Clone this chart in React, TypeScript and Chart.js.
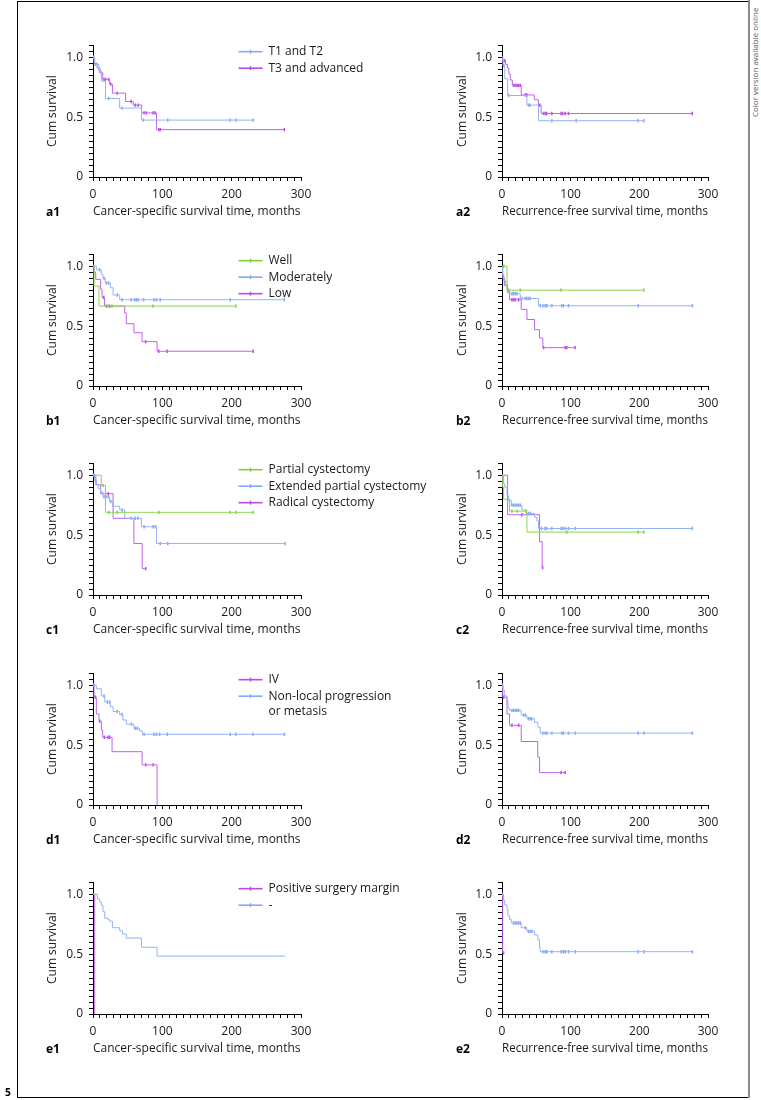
import React, { useEffect, useRef } from 'react';
import { Chart, registerables } from 'chart.js';

Chart.register(...registerables);

const FONT = "'Open Sans', sans-serif";
const TEXT = '#1a1a1a';
const BLUE = '#86a9f4';
const PURPLE = '#b94be8';
const GREEN = '#7fcf3f';
// curve strokes are a little paler than legend swatches in the reference
const CURVE_COLOR: Record<string, string> = {
  [BLUE]: '#93b3f6',
  [PURPLE]: '#c062ec',
  [GREEN]: '#8bd74f',
};

// axis tick labels
const xTickLabels = [0, 100, 200, 300];
const yTickLabels = ['0', '0.5', '1.0'];
const yTickValues = [0, 0.5, 1.0];

const csTitle = 'Cancer-specific survival time, months';
const rfTitle = 'Recurrence-free survival time, months';

// ---- a1 ----
const a1BlueT = [2.5, 8.5, 12, 18, 38.5, 70];
const a1BlueS = [0.94, 0.885, 0.8, 0.655, 0.575, 0.475];
const a1BlueC = [1, 3.5, 9.6, 22.6, 42, 72.7, 107.8, 198, 206, 231];
const a1PurpleT = [1.5, 6, 10, 14, 24, 28, 47, 58, 70, 91.5];
const a1PurpleS = [0.95, 0.91, 0.87, 0.815, 0.775, 0.7, 0.63, 0.6, 0.535, 0.395];
const a1PurpleC = [15.9, 17.8, 22.6, 25.5, 35, 55, 61, 65, 73.7, 77, 86.7, 89.5, 95, 97, 276];
// ---- a2 ----
const a2BlueT = [1.5, 4, 8.2, 36.3, 53.2];
const a2BlueS = [0.93, 0.82, 0.68, 0.6, 0.47];
const a2BlueC = [2.4, 9.7, 38.7, 41, 72.6, 108, 198, 206.6];
const a2PurpleT = [1, 5, 8, 10, 12, 15, 28, 47, 53, 57];
const a2PurpleS = [0.97, 0.94, 0.91, 0.86, 0.81, 0.765, 0.685, 0.645, 0.6, 0.53];
const a2PurpleC = [4, 17, 19.4, 21.8, 24, 26.6, 34, 36, 54.7, 60.5, 63, 65, 72.6, 86, 88.6, 92, 96.8, 277];
// ---- b1 ----
const b1GreenT = [1.5, 8.7];
const b1GreenS = [0.835, 0.667];
const b1GreenC = [21.7, 27.4, 86.7, 206];
const b1BlueT = [4.8, 12, 14.4, 17.8, 25, 29, 38.5];
const b1BlueS = [0.97, 0.93, 0.9, 0.86, 0.82, 0.76, 0.72];
const b1BlueC = [1.4, 9.6, 15.9, 19.3, 22.6, 35, 42, 55, 60, 62.6, 65, 73, 88, 91.5, 97, 198, 276];
const b1PurpleT = [1.4, 3.9, 11, 13, 16.5, 45.7, 48, 59, 70.8, 92.4];
const b1PurpleS = [0.95, 0.89, 0.81, 0.74, 0.667, 0.61, 0.52, 0.445, 0.37, 0.29];
const b1PurpleC = [15.4, 19.3, 24, 76, 94.8, 107, 231];
// ---- b2 ----
const b2GreenT = [7.3];
const b2GreenS = [0.8];
const b2GreenC = [2.4, 9.7, 26.6, 86, 206.6];
const b2BlueT = [1, 2.4, 5, 7.3, 11, 26.6, 53.2];
const b2BlueS = [0.93, 0.88, 0.85, 0.8, 0.77, 0.73, 0.67];
const b2BlueC = [14.5, 16.9, 19.4, 21.8, 29, 33.9, 36.3, 38.7, 41.1, 55.6, 59.5, 62.9, 65.3, 72.6, 87, 89.5, 96.8, 198.4, 277.2];
const b2PurpleT = [1, 3.4, 8.2, 11, 28, 36.3, 47.4, 54.7, 59.5];
const b2PurpleS = [0.9, 0.84, 0.78, 0.72, 0.64, 0.555, 0.47, 0.4, 0.32];
const b2PurpleC = [2.2, 14.5, 16.9, 19.4, 24.2, 60.5, 92, 94.3, 106.4];
// ---- c1 ----
const c1GreenT = [12, 18];
const c1GreenS = [0.915, 0.69];
const c1GreenC = [14.5, 22.6, 35, 95, 198, 206, 231];
const c1BlueT = [2.4, 5, 7.2, 11, 14.4, 24, 28, 38.5, 45.7, 69.8, 91.5];
const c1BlueS = [0.96, 0.92, 0.89, 0.86, 0.82, 0.78, 0.74, 0.71, 0.64, 0.57, 0.43];
const c1BlueC = [1.4, 3.4, 16, 18.3, 21.7, 25.5, 42, 55, 61, 65, 73.7, 86.7, 90, 97, 107.8, 277];
const c1PurpleT = [4, 11, 29, 59, 71];
const c1PurpleS = [0.92, 0.845, 0.64, 0.43, 0.22];
const c1PurpleC = [22, 76];
// ---- c2 ----
const c2PurpleT = [8.2, 54.7, 58.5];
const c2PurpleS = [0.67, 0.445, 0.23];
const c2PurpleC = [29, 59.2];
const c2GreenT = [1, 2.4, 11, 36.3];
const c2GreenS = [0.9, 0.8, 0.7, 0.525];
const c2GreenC = [14.5, 21.8, 35.3, 94.3, 198.4, 206.6];
const c2BlueT = [2.4, 3.9, 7.3, 9.7, 13.5, 29, 35.3, 47.4, 50.8, 53.2];
const c2BlueS = [0.93, 0.9, 0.83, 0.79, 0.75, 0.71, 0.68, 0.65, 0.62, 0.555];
const c2BlueC = [14.5, 16.9, 19.4, 21.8, 24.2, 26.6, 38.7, 41.1, 57.6, 62.4, 65, 72.6, 86.2, 88.6, 92, 96.8, 106.5, 277.2];
// ---- d1 ----
const d1PurpleT = [1.4, 4.8, 8.7, 12, 14, 27.5, 70.8, 92.4];
const d1PurpleS = [0.9, 0.76, 0.7, 0.625, 0.565, 0.445, 0.335, 0];
const d1PurpleC = [3.4, 9.6, 16.5, 21.7, 24, 76, 86.7];
const d1BlueT = [4.8, 12, 17, 25, 29, 38.5, 43, 48, 59, 67, 71];
const d1BlueS = [0.97, 0.91, 0.86, 0.82, 0.78, 0.755, 0.71, 0.675, 0.64, 0.62, 0.59];
const d1BlueC = [1.4, 15.9, 20.7, 24, 35, 41.9, 55.4, 61, 64, 73.7, 88, 91.5, 96, 107, 198, 206, 231, 276];
// ---- d2 ----
const d2PurpleT = [1, 7.3, 11, 28, 52, 54.7];
const d2PurpleS = [0.9, 0.76, 0.665, 0.53, 0.4, 0.27];
const d2PurpleC = [2.4, 14.5, 24.2, 86, 92];
const d2BlueT = [1.5, 3.4, 7.3, 8.7, 11, 28, 36.3, 47.4, 52.2, 55.6];
const d2BlueS = [0.96, 0.91, 0.87, 0.81, 0.79, 0.75, 0.72, 0.69, 0.65, 0.6];
const d2BlueC = [0.8, 14.5, 16.9, 19.4, 21.8, 24.2, 31.4, 33.9, 38.7, 41.1, 43.5, 59.5, 62.9, 65.3, 72.6, 87, 89.5, 96.8, 106.5, 198.4, 206.6, 277.2];
// ---- e1 ----
const e1PurpleT = [2.5];
const e1PurpleS = [0];
const e1PurpleC: number[] = [];
const e1BlueT = [6.3, 9.6, 12, 14.4, 16.9, 21.7, 24, 28, 38.5, 42.4, 48, 69.8, 92.4];
const e1BlueS = [0.96, 0.934, 0.907, 0.854, 0.8, 0.788, 0.775, 0.72, 0.695, 0.668, 0.634, 0.557, 0.483];
const e1BlueC: number[] = [];
const e1BlueEnd = 277;
// ---- e2 ----
const e2PurpleT = [1];
const e2PurpleS = [0.51];
const e2PurpleC = [2.4];
const e2BlueT = [2.4, 3.9, 7.3, 8.7, 11, 13.5, 28, 36.3, 47.4, 52.2, 54.7, 55.6];
const e2BlueS = [0.95, 0.91, 0.87, 0.82, 0.79, 0.76, 0.72, 0.69, 0.66, 0.62, 0.555, 0.52];
const e2BlueC = [0.8, 16.9, 19.4, 21.8, 24.2, 26.6, 33.9, 38.7, 41.1, 43.5, 59.5, 62.9, 65.3, 72.6, 86.2, 89.5, 92, 96.8, 106.5, 198.4, 206.6, 277.2];

type Curve = { color: string; times: number[]; surv: number[]; cens: number[]; end?: number };
type LegendItem = { text: string[]; color: string };
type Panel = { label: string; col: number; row: number; xTitle: string; curves: Curve[]; legend?: LegendItem[] };

const panels: Panel[] = [
  { label: 'a1', col: 0, row: 0, xTitle: csTitle,
    curves: [
      { color: BLUE, times: a1BlueT, surv: a1BlueS, cens: a1BlueC },
      { color: PURPLE, times: a1PurpleT, surv: a1PurpleS, cens: a1PurpleC },
    ],
    legend: [{ text: ['T1 and T2'], color: BLUE }, { text: ['T3 and advanced'], color: PURPLE }] },
  { label: 'a2', col: 1, row: 0, xTitle: rfTitle,
    curves: [
      { color: BLUE, times: a2BlueT, surv: a2BlueS, cens: a2BlueC },
      { color: PURPLE, times: a2PurpleT, surv: a2PurpleS, cens: a2PurpleC },
    ] },
  { label: 'b1', col: 0, row: 1, xTitle: csTitle,
    curves: [
      { color: GREEN, times: b1GreenT, surv: b1GreenS, cens: b1GreenC },
      { color: BLUE, times: b1BlueT, surv: b1BlueS, cens: b1BlueC },
      { color: PURPLE, times: b1PurpleT, surv: b1PurpleS, cens: b1PurpleC },
    ],
    legend: [{ text: ['Well'], color: GREEN }, { text: ['Moderately'], color: BLUE }, { text: ['Low'], color: PURPLE }] },
  { label: 'b2', col: 1, row: 1, xTitle: rfTitle,
    curves: [
      { color: GREEN, times: b2GreenT, surv: b2GreenS, cens: b2GreenC },
      { color: BLUE, times: b2BlueT, surv: b2BlueS, cens: b2BlueC },
      { color: PURPLE, times: b2PurpleT, surv: b2PurpleS, cens: b2PurpleC },
    ] },
  { label: 'c1', col: 0, row: 2, xTitle: csTitle,
    curves: [
      { color: GREEN, times: c1GreenT, surv: c1GreenS, cens: c1GreenC },
      { color: BLUE, times: c1BlueT, surv: c1BlueS, cens: c1BlueC },
      { color: PURPLE, times: c1PurpleT, surv: c1PurpleS, cens: c1PurpleC },
    ],
    legend: [{ text: ['Partial cystectomy'], color: GREEN }, { text: ['Extended partial cystectomy'], color: BLUE }, { text: ['Radical cystectomy'], color: PURPLE }] },
  { label: 'c2', col: 1, row: 2, xTitle: rfTitle,
    curves: [
      { color: GREEN, times: c2GreenT, surv: c2GreenS, cens: c2GreenC },
      { color: BLUE, times: c2BlueT, surv: c2BlueS, cens: c2BlueC },
      { color: PURPLE, times: c2PurpleT, surv: c2PurpleS, cens: c2PurpleC },
    ] },
  { label: 'd1', col: 0, row: 3, xTitle: csTitle,
    curves: [
      { color: BLUE, times: d1BlueT, surv: d1BlueS, cens: d1BlueC },
      { color: PURPLE, times: d1PurpleT, surv: d1PurpleS, cens: d1PurpleC },
    ],
    legend: [{ text: ['IV'], color: PURPLE }, { text: ['Non-local progression', 'or metasis'], color: BLUE }] },
  { label: 'd2', col: 1, row: 3, xTitle: rfTitle,
    curves: [
      { color: BLUE, times: d2BlueT, surv: d2BlueS, cens: d2BlueC },
      { color: PURPLE, times: d2PurpleT, surv: d2PurpleS, cens: d2PurpleC },
    ] },
  { label: 'e1', col: 0, row: 4, xTitle: csTitle,
    curves: [
      { color: BLUE, times: e1BlueT, surv: e1BlueS, cens: e1BlueC, end: e1BlueEnd },
      { color: PURPLE, times: e1PurpleT, surv: e1PurpleS, cens: e1PurpleC },
    ],
    legend: [{ text: ['Positive surgery margin'], color: PURPLE }, { text: ['-'], color: BLUE }] },
  { label: 'e2', col: 1, row: 4, xTitle: rfTitle,
    curves: [
      { color: BLUE, times: e2BlueT, surv: e2BlueS, cens: e2BlueC },
      { color: PURPLE, times: e2PurpleT, surv: e2PurpleS, cens: e2PurpleC },
    ] },
];

// layout
const COLS = [
  { left: 20, width: 420, yw: 73, right: 139, labelX: 46 },
  { left: 430, width: 310, yw: 72, right: 32, labelX: 456 },
];
const ROW_ZERO = [177, 386, 595, 805, 1014];
const ABOVE = 145;
const BELOW = 45;

function kmPoints(c: Curve) {
  const pts = [{ x: 0, y: 1 }];
  c.times.forEach((t, i) => pts.push({ x: t, y: c.surv[i] }));
  const last = pts[pts.length - 1];
  const end = c.end ?? (c.cens.length ? Math.max(...c.cens) : last.x);
  if (end > last.x) pts.push({ x: end, y: last.y });
  return pts;
}

function censorPoints(c: Curve) {
  return c.cens.map((t) => {
    let s = 1;
    c.times.forEach((et, i) => {
      if (et <= t) s = c.surv[i];
    });
    return { x: t, y: s };
  });
}

function makeLegendPlugin(items: LegendItem[] | undefined) {
  return {
    id: 'kmLegend',
    afterDraw(chart: any) {
      if (!items) return;
      const { ctx, chartArea, scales } = chart;
      const x0 = chartArea.left + 145.5;
      let y = scales.y.getPixelForValue(1) - 5.5;
      ctx.save();
      ctx.font = `12px ${FONT}`;
      ctx.textBaseline = 'middle';
      ctx.textAlign = 'left';
      items.forEach((it) => {
        ctx.strokeStyle = it.color;
        ctx.lineWidth = 1.6;
        ctx.beginPath();
        ctx.moveTo(x0, y);
        ctx.lineTo(x0 + 24, y);
        ctx.stroke();
        ctx.lineWidth = 1.4;
        ctx.beginPath();
        ctx.moveTo(x0 + 12, y - 2);
        ctx.lineTo(x0 + 12, y + 2);
        ctx.stroke();
        ctx.fillStyle = TEXT;
        it.text.forEach((line, k) => ctx.fillText(line, x0 + 30, y + k * 15.5));
        y += 16.5 + (it.text.length - 1) * 15.5;
      });
      ctx.restore();
    },
  };
}

function PanelChart({ p }: { p: Panel }) {
  const ref = useRef<HTMLCanvasElement | null>(null);
  const col = COLS[p.col];
  const top = ROW_ZERO[p.row] - ABOVE;
  const height = ABOVE + BELOW;

  useEffect(() => {
    if (!ref.current) return;
    const datasets: any[] = [];
    p.curves.forEach((c) => {
      const stroke = CURVE_COLOR[c.color] || c.color;
      datasets.push({
        type: 'line',
        data: kmPoints(c),
        stepped: true,
        borderColor: stroke,
        borderWidth: 1,
        pointRadius: 0,
        fill: false,
      });
      datasets.push({
        type: 'line',
        data: censorPoints(c),
        showLine: false,
        pointStyle: 'line',
        rotation: 90,
        pointRadius: 1.7,
        pointBorderWidth: 1.5,
        pointBorderColor: c.color,
        borderColor: c.color,
      });
    });
    const tickFont = { family: FONT, size: 12 };
    const chart = new Chart(ref.current, {
      type: 'line',
      data: { datasets },
      plugins: [makeLegendPlugin(p.legend)],
      options: {
        animation: false,
        responsive: false,
        events: [],
        layout: { padding: { top: 7.5, right: col.right, bottom: 0, left: 0 } },
        plugins: { legend: { display: false }, tooltip: { enabled: false } },
        scales: {
          x: {
            type: 'linear',
            min: 0,
            max: 300,
            afterFit: (s: any) => {
              s.height = BELOW;
            },
            ticks: {
              stepSize: 10,
              autoSkip: false,
              maxRotation: 0,
              padding: 6,
              font: tickFont,
              color: TEXT,
              callback: (v: any) => (xTickLabels.includes(Number(v)) ? String(v) : ''),
            },
            grid: { drawOnChartArea: false, drawTicks: true, tickLength: 4, color: '#000', lineWidth: 1 },
            border: { display: true, color: '#000', width: 1 },
            title: { display: true, text: p.xTitle, align: 'start', font: tickFont, color: TEXT, padding: { top: 0, bottom: 3 } },
          },
          y: {
            type: 'linear',
            min: 0,
            max: 1.1,
            afterFit: (s: any) => {
              s.width = col.yw;
            },
            ticks: {
              stepSize: 0.05,
              autoSkip: false,
              padding: 6,
              font: tickFont,
              color: TEXT,
              callback: (v: any) => {
                const idx = yTickValues.findIndex((t) => Math.abs(t - Number(v)) < 1e-6);
                return idx >= 0 ? yTickLabels[idx] : '';
              },
            },
            grid: { drawOnChartArea: false, drawTicks: true, tickLength: 4, color: '#000', lineWidth: 1 },
            border: { display: true, color: '#000', width: 1 },
            title: { display: true, text: 'Cum survival', font: tickFont, color: TEXT, padding: { top: 25, bottom: 0 } },
          },
        },
      } as any,
    });
    return () => chart.destroy();
  }, [p]);

  return (
    <>
      <canvas
        ref={ref}
        width={col.width}
        height={height}
        style={{ position: 'absolute', left: col.left, top, width: col.width, height }}
      />
      <div
        style={{
          position: 'absolute',
          left: col.labelX,
          top: ROW_ZERO[p.row] + 34.5 - 8,
          fontFamily: FONT,
          fontWeight: 700,
          fontSize: 12,
          lineHeight: '16px',
          color: '#000',
        }}
      >
        {p.label}
      </div>
    </>
  );
}

export default function App() {
  return (
    <div style={{ position: 'absolute', left: 0, top: 0, width: 761, height: 1100, background: '#fff', overflow: 'hidden' }}>
      <div
        style={{
          position: 'absolute',
          left: 17,
          top: 1,
          width: 731,
          height: 1097,
          boxSizing: 'border-box',
          borderLeft: '1px solid #000',
          borderTop: '1px solid #000',
          borderBottom: '1px solid #000',
        }}
      />
      <div style={{ position: 'absolute', left: 748, top: 0, width: 2, height: 1098, background: '#8c8c8c' }} />
      <div
        style={{
          position: 'absolute',
          left: 750,
          top: 117,
          fontFamily: FONT,
          fontSize: 8,
          lineHeight: '10px',
          color: '#555',
          whiteSpace: 'nowrap',
          transform: 'rotate(-90deg)',
          transformOrigin: '0 0',
        }}
      >
        Color version available online
      </div>
      <div style={{ position: 'absolute', left: 5, top: 1086, fontFamily: FONT, fontWeight: 700, fontSize: 10, lineHeight: '12px', color: '#000' }}>
        5
      </div>
      {panels.map((p) => (
        <PanelChart key={p.label} p={p} />
      ))}
    </div>
  );
}
